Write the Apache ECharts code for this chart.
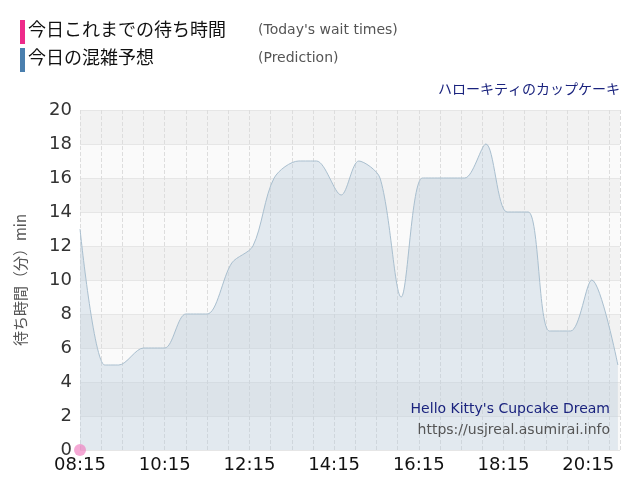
<!DOCTYPE html>
<html><head><meta charset="utf-8">
<script src="https://cdn.jsdelivr.net/npm/echarts@6/dist/echarts.min.js"></script>
<style>html,body{margin:0;padding:0}#c{width:640px;height:500px}</style>
</head><body><div id="c"></div>
<script>
// minutes since 08:15
const predTimes = ["08:15","08:50","09:10","09:45","10:15","10:45","11:15","11:50","12:20","12:50","13:25","13:50","14:25","14:50","15:20","15:50","16:20","16:50","17:20","17:50","18:20","18:50","19:20","19:50","20:20","20:57"];
const predValues = [13,5,5,6,6,8,8,11,12,16,17,17,15,17,16,9,16,16,16,18,14,14,7,7,10,5];
const waitTimes = ["08:15"];
const waitValues = [0];
const toMin = s => { const [h,m]=s.split(":").map(Number); return h*60+m-495; };
const fmt = v => { const t=v+495; return String(Math.floor(t/60)).padStart(2,"0")+":"+String(t%60).padStart(2,"0"); };
const ch = echarts.init(document.getElementById('c'));
const F = "'Noto Sans CJK JP', sans-serif";
ch.setOption({
  animation:false,
  grid:{left:80,right:20,top:110,bottom:50},
  xAxis:{type:'value',min:0,max:765,interval:120,
    axisLabel:{formatter:fmt,fontSize:18,color:'#111',fontFamily:'Verdana, DejaVu Sans',margin:6,showMaxLabel:false},
    axisLine:{show:false},axisTick:{show:false},
    splitLine:{show:true,lineStyle:{type:'dashed',color:'#ddd'}},
    minorTick:{show:false,splitNumber:4},
    minorSplitLine:{show:true,lineStyle:{type:'dashed',color:'#ddd'}}},
  yAxis:{type:'value',min:0,max:20,interval:2,
    name:'待ち時間（分）min',nameLocation:'middle',nameGap:52,nameTextStyle:{fontSize:15,color:'#555',fontFamily:F},
    axisLabel:{fontSize:18,color:'#333',fontFamily:'Verdana, DejaVu Sans'},
    axisLine:{show:false},axisTick:{show:false},
    splitLine:{lineStyle:{color:'#e6e6e6'}},
    splitArea:{show:true,areaStyle:{color:['#fafafa','#f2f2f2']}}},
  series:[
    {type:'line',smooth:0.3,symbol:'none',data:predTimes.map((t,i)=>[toMin(t),predValues[i]]),
     lineStyle:{color:'#a9bfcf',width:1},areaStyle:{color:'rgba(180,202,218,0.5)'}},
    {type:'scatter',symbolSize:12,data:waitTimes.map((t,i)=>[toMin(t),waitValues[i]]),
     itemStyle:{color:'rgba(240,120,190,0.8)'},z:5}
  ],
  graphic:[
    {type:'rect',shape:{x:20,y:20,width:5,height:24},style:{fill:'#ee2a8a'}},
    {type:'text',left:28,top:20,style:{text:'今日これまでの待ち時間',fontSize:18,fill:'#111',fontFamily:F}},
    {type:'text',left:258,top:23,style:{text:"(Today's wait times)",fontSize:14,fill:'#555',fontFamily:'Verdana, DejaVu Sans'}},
    {type:'rect',shape:{x:20,y:48,width:5,height:24},style:{fill:'#4a7fae'}},
    {type:'text',left:28,top:48,style:{text:'今日の混雑予想',fontSize:18,fill:'#111',fontFamily:F}},
    {type:'text',left:258,top:51,style:{text:'(Prediction)',fontSize:14,fill:'#555',fontFamily:'Verdana, DejaVu Sans'}},
    {type:'text',right:20,top:82,style:{text:'ハローキティのカップケーキ',fontSize:14,fill:'#1a237e',fontFamily:F}},
    {type:'text',right:30,top:402,z:100,style:{text:"Hello Kitty's Cupcake Dream",fontSize:14,fill:'#1a237e',fontFamily:'Verdana, DejaVu Sans'}},
    {type:'text',right:30,top:423,z:100,style:{text:'https://usjreal.asumirai.info',fontSize:14,fill:'#555',fontFamily:'Verdana, DejaVu Sans'}}
  ]
});
</script></body></html>
